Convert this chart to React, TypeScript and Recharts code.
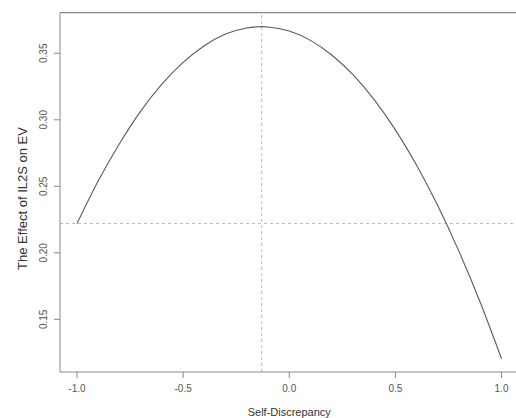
import React from "react";
import { LineChart, Line, XAxis, YAxis, ReferenceLine } from "recharts";

const selfDiscrepancy = [-1.0, -0.9, -0.8, -0.7, -0.6, -0.5, -0.4, -0.3, -0.2, -0.13, -0.1, 0.0, 0.1, 0.2, 0.3, 0.4, 0.5, 0.6, 0.7, 0.8, 0.9, 1.0];
const effectValues = [0.222, 0.254, 0.282, 0.3065, 0.3268, 0.3432, 0.3557, 0.3644, 0.369, 0.370, 0.3698, 0.3667, 0.3597, 0.3487, 0.3339, 0.3151, 0.2924, 0.2658, 0.2353, 0.2009, 0.1626, 0.1204];
const xTicks = [-1.0, -0.5, 0.0, 0.5, 1.0];
const yTicks = [0.15, 0.2, 0.25, 0.3, 0.35];
const xDomain = [-1.08, 1.08];
const yDomain = [0.1104, 0.3805];
const refY = 0.222;
const refX = -0.13;

const data = selfDiscrepancy.map((x, i) => ({ x, y: effectValues[i] }));

const FONT = "'Liberation Sans', Arial, sans-serif";

const YTick = (props: any) => {
  const { x, y, payload } = props;
  return (
    <text
      x={x}
      y={y}
      transform={`rotate(-90, ${x}, ${y})`}
      textAnchor="middle"
      fontSize={10}
      fill="#555"
      fontFamily={FONT}
    >
      {Number(payload.value).toFixed(2)}
    </text>
  );
};

const YTitle = () => (
  <text
    x={27}
    y={198.5}
    transform="rotate(-90, 27, 198.5)"
    textAnchor="middle"
    fontSize={13}
    fill="#333"
    fontFamily={FONT}
  >
    The Effect of IL2S on EV
  </text>
);

export default function App() {
  return (
    <div style={{ position: "absolute", left: 0, top: 0, width: 516, height: 418, overflow: "hidden", background: "#fff" }}>
      <LineChart
        width={520}
        height={418}
        data={data}
        margin={{ top: 12.7, right: 1.5, bottom: 0, left: 0 }}
        style={{ fontFamily: FONT }}
      >
        <XAxis
          dataKey="x"
          type="number"
          domain={xDomain}
          ticks={xTicks}
          allowDataOverflow
          tickFormatter={(v: number) => v.toFixed(1)}
          height={46}
          tickSize={6}
          tickMargin={7}
          stroke="#888"
          tick={{ fontSize: 10, fill: "#555", fontFamily: FONT }}
          label={{ value: "Self-Discrepancy", position: "center", dy: 17, fontSize: 11, fill: "#333", fontFamily: FONT }}
        />
        <YAxis
          type="number"
          domain={yDomain}
          ticks={yTicks}
          allowDataOverflow
          width={60}
          tickSize={6}
          tickMargin={7}
          stroke="#888"
          tick={<YTick />}
          label={<YTitle />}
        />
        <ReferenceLine y={yDomain[1]} stroke="#888" strokeWidth={1.3} />
        <ReferenceLine y={refY} stroke="#bbb" strokeDasharray="3 3" />
        <ReferenceLine x={refX} stroke="#bbb" strokeDasharray="3 3" />
        <Line
          type="monotone"
          dataKey="y"
          stroke="#5a5a5a"
          strokeWidth={1.1}
          dot={false}
          isAnimationActive={false}
        />
      </LineChart>
    </div>
  );
}
